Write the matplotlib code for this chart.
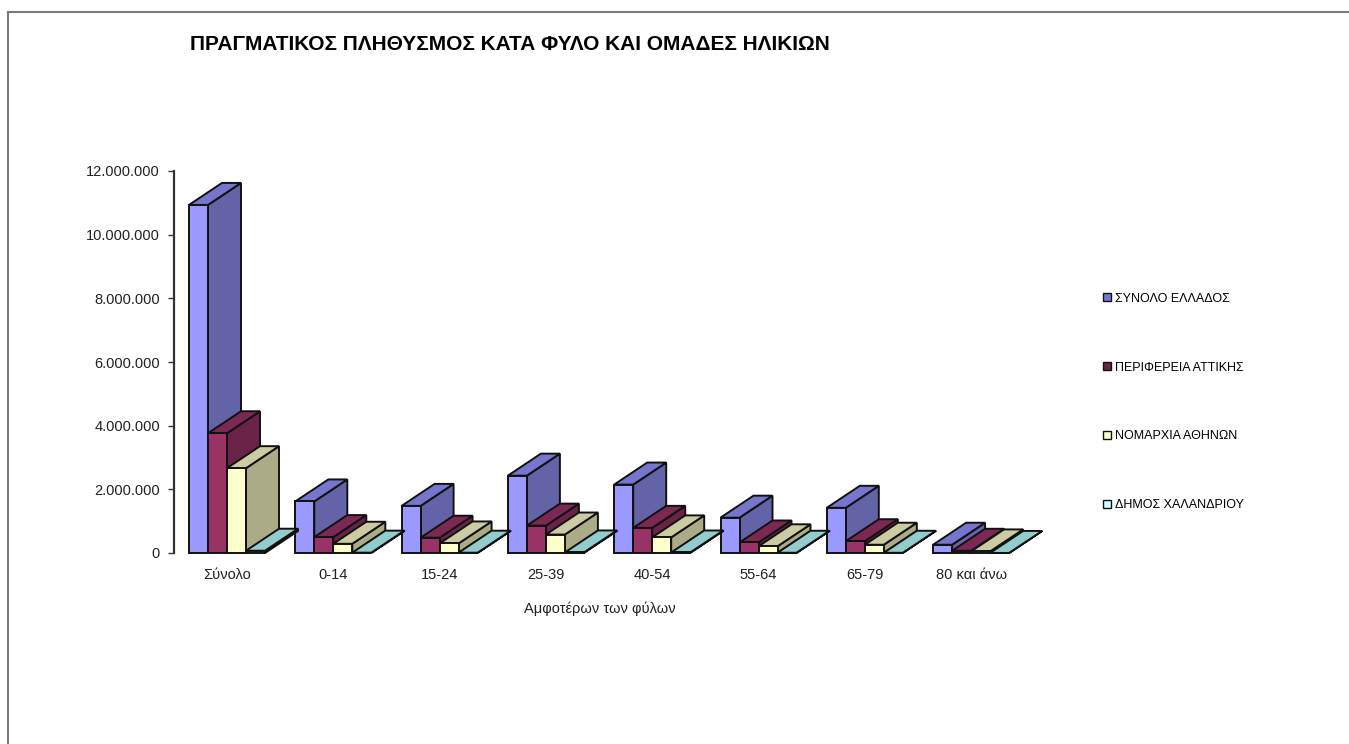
import matplotlib
matplotlib.use("Agg")
import matplotlib.pyplot as plt
from matplotlib.patches import Polygon, Patch
from matplotlib.lines import Line2D
from matplotlib.ticker import FuncFormatter

# data (population, 2001)
categories = ['Σύνολο', '0-14', '15-24', '25-39', '40-54', '55-64', '65-79', '80 και άνω']
series_names = ['ΣΥΝΟΛΟ ΕΛΛΑΔΟΣ', 'ΠΕΡΙΦΕΡΕΙΑ ΑΤΤΙΚΗΣ', 'ΝΟΜΑΡΧΙΑ ΑΘΗΝΩΝ', 'ΔΗΜΟΣ ΧΑΛΑΝΔΡΙΟΥ']
greece = [10934097, 1620000, 1480000, 2430000, 2150000, 1110000, 1420000, 260000]
attica = [3761810, 500000, 480000, 860000, 790000, 330000, 370000, 70000]
athens = [2664776, 290000, 300000, 580000, 490000, 210000, 260000, 50000]
chalandri = [71684, 11000, 10000, 17000, 16000, 8000, 7000, 2000]
yticks = [0, 2000000, 4000000, 6000000, 8000000, 10000000, 12000000]

front_colors = ['#9999FF', '#993366', '#FFFFCC', '#CCFFFF']
top_colors = ['#7676CE', '#7B2952', '#CCCCA3', '#93CCCC']
side_colors = ['#6363A8', '#6A2346', '#ABAB88', '#7FAAAA']
edge = '#111111'

plt.rcParams['font.family'] = ['Liberation Sans', 'DejaVu Sans']

W, H = 1349, 744
fig = plt.figure(figsize=(W / 100, H / 100), dpi=100)
ax_l, ax_r, ax_b, ax_t = 174, 1045, 553, 171
ax = fig.add_axes([ax_l / W, 1 - ax_b / H, (ax_r - ax_l) / W, (ax_b - ax_t) / H])

cat_px = 106.3
x0 = -15 / cat_px
x1 = x0 + (ax_r - ax_l) / cat_px
ax.set_xlim(x0, x1)
ax.set_ylim(0, 12000000)

# depth of the fake 3d bars, converted to data units
ddx = 33 * (x1 - x0) / (ax_r - ax_l)
ddy = 22 * 12000000 / (ax_b - ax_t)
bw = 19 / cat_px

all_series = [greece, attica, athens, chalandri]
for j, vals in enumerate(all_series):
    lefts = [i + j * bw for i in range(len(categories))]
    for left, v in zip(lefts, vals):
        right = left + bw
        side = Polygon([(right, 0), (right + ddx, ddy), (right + ddx, v + ddy), (right, v)],
                       closed=True, fc=side_colors[j], ec=edge, lw=1.4,
                       zorder=2 + 3 * j, clip_on=False)
        top = Polygon([(left, v), (right, v), (right + ddx, v + ddy), (left + ddx, v + ddy)],
                      closed=True, fc=top_colors[j], ec=edge, lw=1.4,
                      zorder=3 + 3 * j, clip_on=False)
        ax.add_patch(side)
        ax.add_patch(top)
    ax.bar(lefts, vals, width=bw, align='edge', color=front_colors[j],
           edgecolor=edge, linewidth=1.4, zorder=4 + 3 * j, clip_on=False)

ax.set_xticks([i + 2 * bw for i in range(len(categories))])
ax.set_xticklabels(categories, fontsize=10.5, color='#222222')
ax.tick_params(axis='x', length=0, pad=11)
ax.set_yticks(yticks)
ax.yaxis.set_major_formatter(FuncFormatter(lambda v, p: f'{int(v):,}'.replace(',', '.')))
ax.tick_params(axis='y', direction='out', length=4, width=1, color='#333333',
               labelsize=10.5, labelcolor='#222222', pad=6)
for s in ['top', 'right', 'bottom']:
    ax.spines[s].set_visible(False)
ax.spines['left'].set_color('#333333')
ax.spines['left'].set_linewidth(1.6)
ax.patch.set_visible(False)

ax.set_xlabel('Αμφοτέρων των φύλων', fontsize=10.5, color='#222222')
ax.xaxis.set_label_coords((600 - ax_l) / (ax_r - ax_l), -(602 - ax_b) / (ax_b - ax_t))

fig.text(190 / W, 1 - 45 / H, 'ΠΡΑΓΜΑΤΙΚΟΣ ΠΛΗΘΥΣΜΟΣ ΚΑΤΑ ΦΥΛΟ ΚΑΙ ΟΜΑΔΕΣ ΗΛΙΚΙΩΝ',
         fontsize=15, fontweight='bold', va='center', ha='left')

handles = [Patch(facecolor=c, edgecolor=edge, linewidth=1)
           for c in [top_colors[0], side_colors[1], front_colors[2], front_colors[3]]]
fig.legend(handles, series_names, loc='center left', bbox_to_anchor=(1103 / W, 1 - 402 / H),
           frameon=False, fontsize=9, labelspacing=4.55, handlelength=0.6, handleheight=0.6,
           handletextpad=0.35, borderaxespad=0, borderpad=0)

# frame of the original sheet
fig.add_artist(Line2D([8 / W, 8 / W], [0, 1 - 12 / H], transform=fig.transFigure, color='#7a7a7a', lw=1.5))
fig.add_artist(Line2D([8 / W, 1], [1 - 12 / H, 1 - 12 / H], transform=fig.transFigure, color='#7a7a7a', lw=1.5))

fig.savefig('out.png', dpi=100)
